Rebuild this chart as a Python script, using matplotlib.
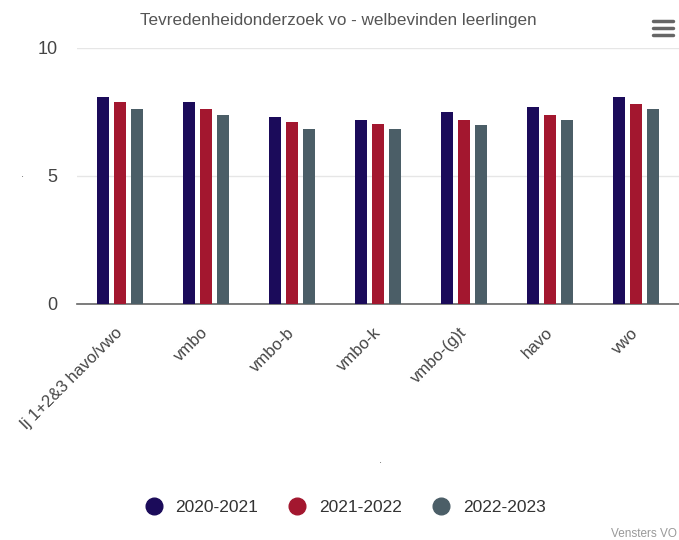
import matplotlib
matplotlib.use("Agg")
import matplotlib.pyplot as plt
import numpy as np
from matplotlib.lines import Line2D

categories = ["lj 1+2&3 havo/vwo", "vmbo", "vmbo-b", "vmbo-k", "vmbo-(g)t", "havo", "vwo"]
series_names = ["2020-2021", "2021-2022", "2022-2023"]
s2020 = [8.1, 7.9, 7.3, 7.2, 7.5, 7.7, 8.1]
s2021 = [7.9, 7.6, 7.1, 7.05, 7.2, 7.4, 7.8]
s2022 = [7.6, 7.4, 6.85, 6.85, 7.0, 7.2, 7.6]
colors = ["#1b0b5a", "#a3172f", "#4b5e67"]
yticks = [0, 5, 10]

plt.rcParams['font.family'] = ['Liberation Sans', 'DejaVu Sans']

fig = plt.figure(figsize=(6.79, 5.40), dpi=100)
W, H = 679, 540
left, right, top, bottom = 77, 679, 48, 304
ax = fig.add_axes([left / W, 1 - bottom / H, (right - left) / W, (bottom - top) / H])

x = np.arange(len(categories))
bw = 0.143
off = 0.198
for i, (vals, c) in enumerate(zip([s2020, s2021, s2022], colors)):
    ax.bar(x + (i - 1) * off, vals, width=bw, color=c, zorder=3)

ax.set_xlim(-0.5, 6.5)
ax.set_ylim(0, 10)
ax.set_yticks(yticks)
ax.set_yticklabels([str(t) for t in yticks], fontsize=13, color="#444444")
ax.yaxis.grid(True, color="#e6e6e6", linewidth=1, zorder=0)
ax.tick_params(axis="y", length=0, pad=14)
for s in ["top", "right", "left"]:
    ax.spines[s].set_visible(False)
ax.spines["bottom"].set_color("#666666")
ax.spines["bottom"].set_linewidth(1.2)
ax.set_xticks(x)
ax.set_xticklabels(categories, rotation=45, ha="right", va="center", rotation_mode="anchor",
                   fontsize=12, color="#444444")
ax.tick_params(axis="x", length=0, pad=19)

fig.text(338 / W, 1 - 21 / H, "Tevredenheidonderzoek vo - welbevinden leerlingen",
         ha="center", va="center", fontsize=12.3, color="#555555")
fig.text(22 / W, 1 - 174 / H, ".", ha="center", va="center", fontsize=8, color="#666666")
fig.text(380 / W, 1 - 460 / H, ".", ha="center", va="center", fontsize=8, color="#666666")
fig.text(677 / W, 1 - 534 / H, "Vensters VO", ha="right", va="center", fontsize=8.5, color="#999999")

# menu icon
for yy in [21, 28, 35]:
    fig.add_artist(Line2D([653 / W, 673 / W], [1 - yy / H, 1 - yy / H], color="#666666",
                          linewidth=2.5, solid_capstyle="round"))

handles = [Line2D([0], [0], marker="o", linestyle="", markersize=12, markerfacecolor=c,
                  markeredgecolor=c) for c in colors]
fig.legend(handles, series_names, loc="center", bbox_to_anchor=(341 / W, 1 - 507 / H),
           ncol=3, frameon=False, fontsize=12.5, handletextpad=0.25, columnspacing=1.25,
           labelcolor="#333333")

fig.savefig("out.png", dpi=100)
